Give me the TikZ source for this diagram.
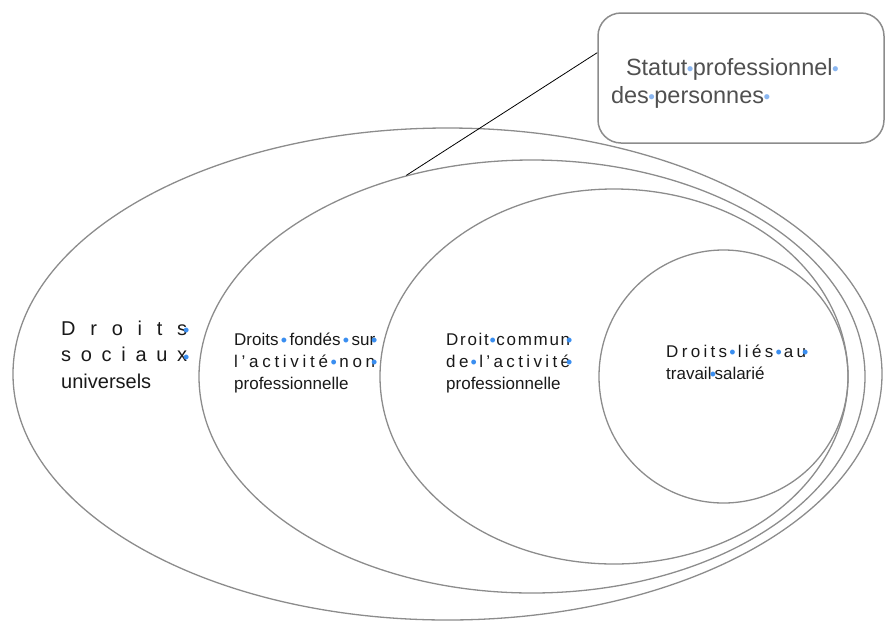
\documentclass[tikz,border=0pt]{standalone}
\usepackage{fontspec}
\setmainfont{Liberation Sans}
\usetikzlibrary{shapes.geometric}

\definecolor{ringgray}{HTML}{8C8C8C}
\definecolor{markblue}{HTML}{3A8EF0}
\definecolor{lightmark}{HTML}{8AB6F0}
\definecolor{boxtext}{HTML}{505050}

% blue marks where the spaces are
\newcommand{\spdot}{{\color{markblue}\makebox[4pt]{\raisebox{-1.6pt}{\fontsize{18}{18}\selectfont •}}}}
\newcommand{\lastdot}{\llap{\spdot\kern-1pt}}
\newcommand{\stdot}{{\color{lightmark}\makebox[5.5pt]{\raisebox{-0.8pt}{\fontsize{19}{19}\selectfont •}}}}

\tikzset{
  ring/.style={draw=ringgray,line width=1.3pt,ellipse,inner sep=0pt},
  ringtext/.style={anchor=base west,inner sep=0pt,text width=#1,text=black!90},
  statbox/.style={draw=ringgray,line width=1.5pt,rounded corners=23pt,
    minimum width=286pt,minimum height=130pt,inner xsep=13pt,
    text width=260pt,align=left,text=boxtext,font=\fontsize{23.5}{28}\selectfont}
}

\begin{document}
\begin{tikzpicture}[x=1pt,y=-1pt]
\useasboundingbox (0,0) rectangle (886,622);

\node[ring,minimum width=869pt,minimum height=492pt] (univ) at (447.5,374) {};
\node[ring,minimum width=666pt,minimum height=433pt] (nonpro) at (532,376.5) {};
\node[ring,minimum width=468pt,minimum height=375pt] (commun) at (614,376.5) {};
\node[ring,minimum width=249pt,minimum height=253pt] (salarie) at (723.5,376.5) {};

\node[ringtext=126pt,font=\fontsize{20}{26.5}\selectfont] (univtext) at (61,335) {%
\makebox[126pt][s]{D\hfill r\hfill o\hfill i\hfill t\hfill s\lastdot}\\
\makebox[126pt][s]{s\hfill o\hfill c\hfill i\hfill a\hfill u\hfill x\lastdot}\\
universels};

\node[ringtext=141pt,font=\fontsize{17}{22}\selectfont] (nonprotext) at (234,345) {%
\makebox[141pt][s]{Droits\hfill\spdot\hfill fondés\hfill\spdot\hfill sur\lastdot}\\
\makebox[141pt][s]{l\hfill ’\hfill a\hfill c\hfill t\hfill i\hfill v\hfill i\hfill t\hfill é\hfill\spdot\hfill n\hfill o\hfill n\lastdot}\\
professionnelle};

\node[ringtext=124pt,font=\fontsize{17}{22}\selectfont] (communtext) at (446,345) {%
\makebox[124pt][s]{D\hfill r\hfill o\hfill i\hfill t\hfill\spdot\hfill c\hfill o\hfill m\hfill m\hfill u\hfill n\lastdot}\\
\makebox[124pt][s]{d\hfill e\hfill\spdot\hfill l\hfill ’\hfill a\hfill c\hfill t\hfill i\hfill v\hfill i\hfill t\hfill é\lastdot}\\
professionnelle};

\node[ringtext=140pt,font=\fontsize{17}{22}\selectfont] (salarietext) at (666,357) {%
\makebox[140pt][s]{D\hfill r\hfill o\hfill i\hfill t\hfill s\hfill\spdot\hfill l\hfill i\hfill é\hfill s\hfill\spdot\hfill a\hfill u\lastdot}\\
travail\kern-0.5pt\spdot\kern-0.5pt salarié};

\node[statbox] (statut) at (741,78) {%
\rule{0pt}{27pt}\hspace*{15pt}Statut\stdot professionnel\stdot\\
des\stdot personnes\stdot};

\draw[black,line width=0.8pt] (nonpro.122) -- (statut.170);
\end{tikzpicture}
\end{document}
